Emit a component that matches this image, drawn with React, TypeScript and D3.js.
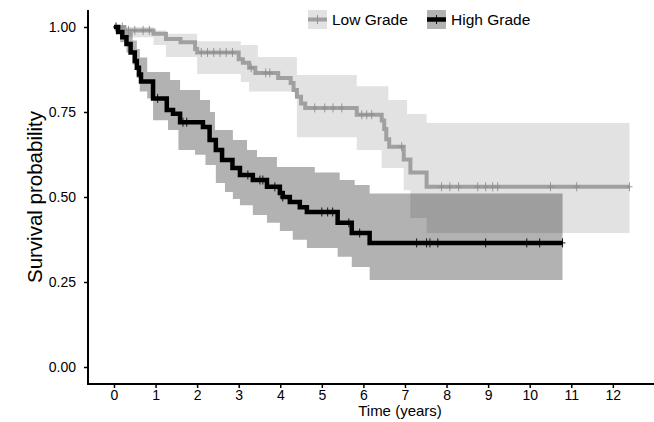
import React, { useRef, useEffect } from 'react'
import * as d3 from 'd3'

// Kaplan-Meier estimates (time in years, survival)
const lowTime = [0, 0.25, 0.95, 1.25, 1.6, 1.95, 2.0, 3.0, 3.1, 3.25, 3.4, 3.95, 4.25, 4.32, 4.4, 4.5, 4.6, 5.84, 6.44, 6.5, 6.55, 6.62, 6.97, 7.13, 7.52, 12.4]
const lowSurv = [1, 0.99, 0.98, 0.965, 0.955, 0.935, 0.925, 0.905, 0.895, 0.88, 0.865, 0.85, 0.835, 0.815, 0.795, 0.775, 0.762, 0.742, 0.725, 0.7, 0.67, 0.648, 0.61, 0.572, 0.53, 0.53]

const highTime = [0, 0.1, 0.2, 0.3, 0.4, 0.5, 0.55, 0.6, 0.65, 0.94, 1.27, 1.42, 1.59, 2.14, 2.3, 2.45, 2.6, 2.85, 3.03, 3.34, 3.68, 3.99, 4.06, 4.23, 4.47, 4.64, 5.38, 5.72, 6.15, 10.79]
const highSurv = [1, 0.985, 0.97, 0.95, 0.925, 0.9, 0.88, 0.86, 0.84, 0.79, 0.756, 0.745, 0.72, 0.706, 0.668, 0.638, 0.609, 0.585, 0.565, 0.55, 0.53, 0.512, 0.5, 0.485, 0.47, 0.456, 0.424, 0.394, 0.365, 0.365]

// confidence bands
const lowUpperTime = [0, 0.95, 1.25, 2.0, 3.05, 3.46, 4.4, 5.84, 6.6, 7.05, 7.52, 12.4]
const lowUpper = [1, 0.99, 0.98, 0.958, 0.947, 0.912, 0.859, 0.826, 0.785, 0.744, 0.718, 0.718]
const lowLowerTime = [0, 0.25, 0.95, 1.25, 2.0, 3.05, 3.25, 4.4, 5.84, 6.44, 6.97, 7.13, 7.52, 12.4]
const lowLower = [1, 0.97, 0.947, 0.912, 0.862, 0.838, 0.81, 0.676, 0.638, 0.585, 0.52, 0.438, 0.394, 0.394]

const highUpperTime = [0, 0.15, 0.3, 0.45, 0.55, 0.62, 0.8, 1.35, 1.59, 2.07, 2.31, 2.43, 2.86, 3.2, 3.44, 3.92, 4.83, 5.43, 5.79, 6.15, 10.79]
const highUpper = [1, 0.995, 0.985, 0.96, 0.935, 0.91, 0.868, 0.844, 0.815, 0.785, 0.75, 0.697, 0.668, 0.638, 0.618, 0.588, 0.572, 0.55, 0.535, 0.51, 0.51]
const highLowerTime = [0, 0.15, 0.3, 0.45, 0.55, 0.62, 0.8, 0.94, 1.3, 1.55, 1.95, 2.2, 2.45, 2.67, 2.86, 3.03, 3.34, 3.68, 3.99, 4.3, 4.64, 5.38, 5.72, 6.15, 10.79]
const highLower = [1, 0.955, 0.925, 0.89, 0.85, 0.81, 0.79, 0.726, 0.697, 0.638, 0.624, 0.594, 0.541, 0.515, 0.494, 0.476, 0.447, 0.424, 0.4, 0.374, 0.35, 0.324, 0.294, 0.256, 0.256]

// censored observations
const lowCensor = [0.2, 0.35, 0.5, 0.7, 0.85, 2.1, 2.25, 2.4, 2.55, 2.7, 2.85, 3.3, 3.65, 3.75, 4.83, 5.07, 5.27, 5.48, 5.96, 6.08, 6.2, 6.92, 7.88, 8.08, 8.29, 8.75, 8.94, 9.11, 9.23, 10.5, 11.13, 12.4]
const highCensor = [0.05, 1.05, 1.66, 1.75, 3.22, 3.51, 3.58, 3.87, 4.06, 5.0, 5.14, 5.26, 5.65, 5.91, 7.28, 7.52, 7.6, 7.79, 8.94, 9.93, 10.24, 10.79]

const xTicks = [0, 1, 2, 3, 4, 5, 6, 7, 8, 9, 10, 11, 12]
const yTicks = [0, 0.25, 0.5, 0.75, 1]
const groups = ['Low Grade', 'High Grade']
const colors = ['#a0a0a0', '#000000']

const FONT = '"Liberation Sans", Arial, sans-serif'

function stepAt(times: number[], vals: number[], t: number) {
  const i = d3.bisectRight(times, t) - 1
  return vals[Math.max(0, i)]
}

function band(upT: number[], up: number[], loT: number[], lo: number[]) {
  const ts = Array.from(new Set([...upT, ...loT])).sort((a, b) => a - b)
  return ts.map(t => [t, stepAt(upT, up, t), stepAt(loT, lo, t)])
}

export default function App() {
  const svgRef = useRef<SVGSVGElement>(null)

  useEffect(() => {
    const width = 654
    const height = 422
    const svg = d3.select(svgRef.current)
    svg.selectAll('*').remove()
    svg.attr('width', width).attr('height', height)

    const x = d3.scaleLinear().domain([-0.625, 12.99]).range([88, 654])
    const y = d3.scaleLinear().domain([-0.05, 1.05]).range([384, 10])

    const series = [
      { t: lowTime, s: lowSurv, b: band(lowUpperTime, lowUpper, lowLowerTime, lowLower), c: lowCensor, w: 4 },
      { t: highTime, s: highSurv, b: band(highUpperTime, highUpper, highLowerTime, highLower), c: highCensor, w: 4.5 },
    ]

    const area = d3.area<number[]>()
      .x(d => x(d[0]))
      .y0(d => y(d[2]))
      .y1(d => y(d[1]))
      .curve(d3.curveStepAfter)

    const line = d3.line<number[]>()
      .x(d => x(d[0]))
      .y(d => y(d[1]))
      .curve(d3.curveStepAfter)

    // bands
    series.forEach((sr, i) => {
      svg.append('path')
        .attr('d', area(sr.b))
        .attr('fill', colors[i])
        .attr('fill-opacity', 0.3)
    })

    // curves + censor marks
    series.forEach((sr, i) => {
      svg.append('path')
        .attr('d', line(sr.t.map((t, k) => [t, sr.s[k]])))
        .attr('fill', 'none')
        .attr('stroke', colors[i])
        .attr('stroke-width', sr.w)
        .attr('stroke-linejoin', 'miter')

      const g = svg.append('g').attr('stroke', i === 0 ? '#8c8c8c' : '#000').attr('stroke-width', 0.9)
      sr.c.forEach(ct => {
        const cx = x(ct)
        const cy = y(stepAt(sr.t, sr.s, ct))
        g.append('line').attr('x1', cx).attr('x2', cx).attr('y1', cy - 4.5).attr('y2', cy + 4.5)
        g.append('line').attr('x1', cx - 3).attr('x2', cx + 3).attr('y1', cy).attr('y2', cy)
      })
    })

    // axes
    const yAxis = svg.append('g')
      .attr('transform', 'translate(88,0)')
      .call(d3.axisLeft(y).tickValues(yTicks).tickFormat(d3.format('.2f')).tickSize(4).tickPadding(8))
    yAxis.select('.domain').remove()

    const xAxis = svg.append('g')
      .attr('transform', 'translate(0,384)')
      .call(d3.axisBottom(x).tickValues(xTicks).tickFormat(d3.format('d')).tickSize(4).tickPadding(2))
    xAxis.select('.domain').remove()

    svg.selectAll('.tick line').attr('stroke', '#000').attr('stroke-width', 1.5)
    svg.selectAll('.tick text')
      .attr('fill', '#000')
      .style('font-family', FONT)
      .style('font-size', '14px')

    svg.append('line')
      .attr('x1', 88).attr('x2', 88).attr('y1', y.range()[1]).attr('y2', y.range()[0] + 1)
      .attr('stroke', '#000').attr('stroke-width', 2)
    svg.append('line')
      .attr('x1', 87).attr('x2', 654).attr('y1', 384).attr('y2', 384)
      .attr('stroke', '#000').attr('stroke-width', 2)

    // axis titles
    svg.append('text')
      .attr('transform', 'translate(42,197) rotate(-90)')
      .attr('text-anchor', 'middle')
      .style('font-family', FONT)
      .style('font-size', '20.5px')
      .text('Survival probability')

    svg.append('text')
      .attr('x', 400).attr('y', 416)
      .attr('text-anchor', 'middle')
      .style('font-family', FONT)
      .style('font-size', '15px')
      .text('Time (years)')

    // legend
    const keyX = [308, 427]
    groups.forEach((name, i) => {
      const g = svg.append('g').attr('transform', `translate(${keyX[i]},10)`)
      g.append('rect').attr('width', 19).attr('height', 19).attr('fill', colors[i]).attr('fill-opacity', 0.3)
      g.append('line').attr('x1', 0).attr('x2', 19).attr('y1', 9.5).attr('y2', 9.5)
        .attr('stroke', colors[i]).attr('stroke-width', series[i].w)
      g.append('line').attr('x1', 9.5).attr('x2', 9.5).attr('y1', 5).attr('y2', 14)
        .attr('stroke', i === 0 ? '#8c8c8c' : '#000').attr('stroke-width', 0.9)
      g.append('text')
        .attr('x', 24).attr('y', 15)
        .style('font-family', FONT)
        .style('font-size', '15.5px')
        .text(name)
    })
  }, [])

  return (
    <svg ref={svgRef} style={{ position: 'absolute', left: 0, top: 0, background: '#fff' }}></svg>
  )
}
